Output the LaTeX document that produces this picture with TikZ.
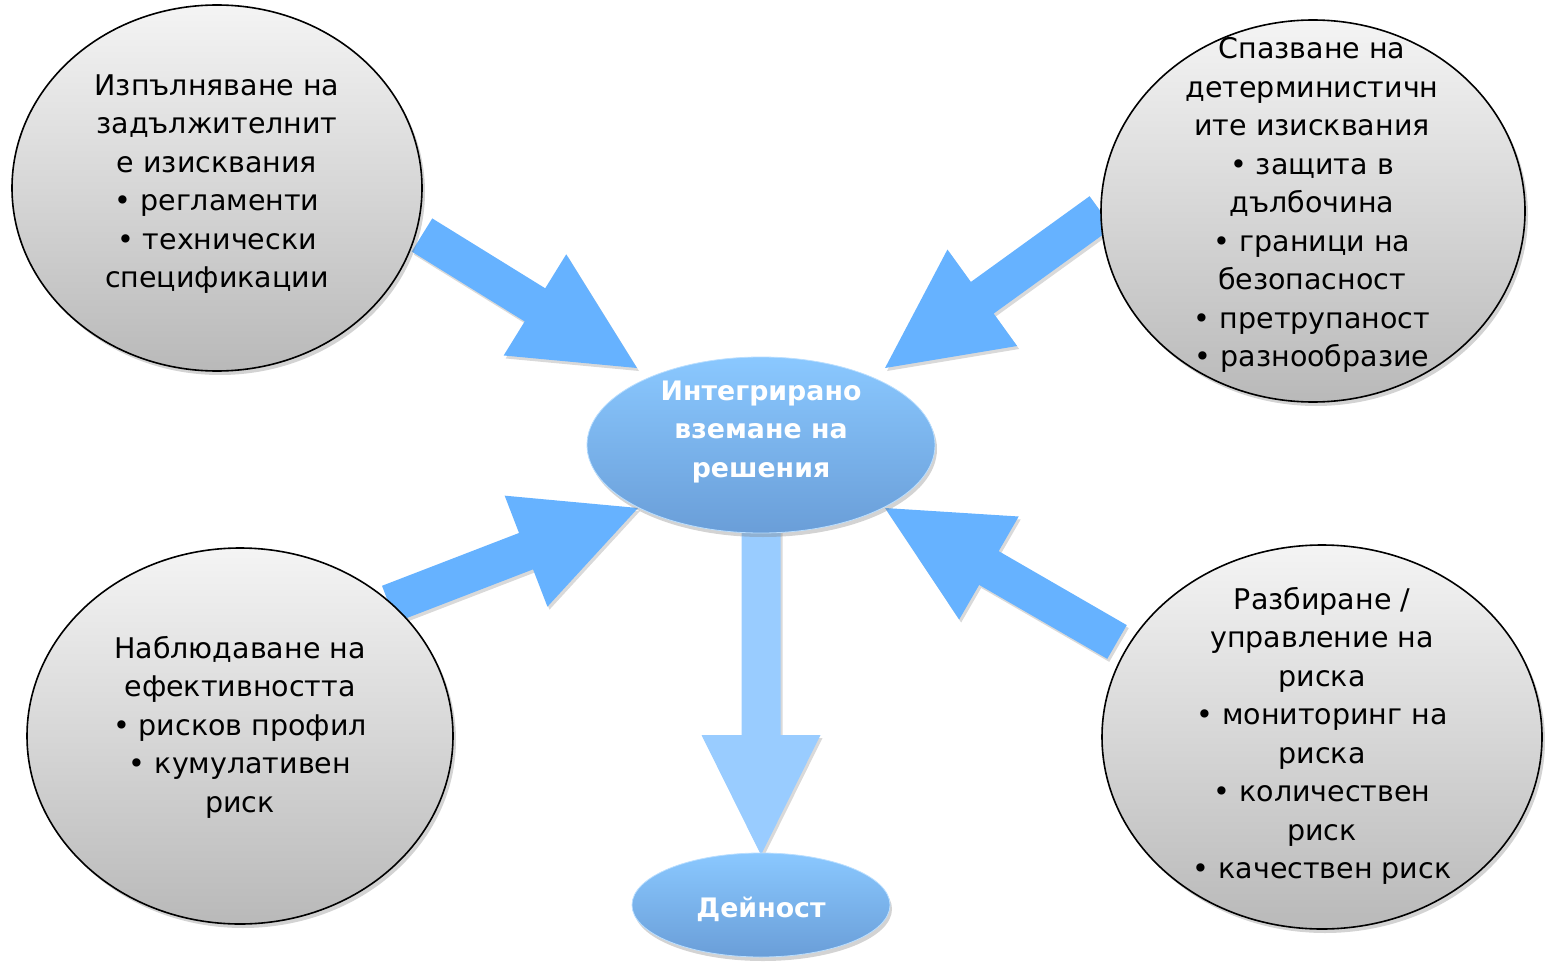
\documentclass[tikz,border=0pt]{standalone}
\usepackage{fontspec}
\setmainfont{DejaVu Sans}
\usetikzlibrary{calc,shadows,shapes.geometric}
\pgfdeclarelayer{background}
\pgfsetlayers{background,main}
\definecolor{arrowblue}{HTML}{66B2FF}
\definecolor{downblue}{HTML}{99CCFF}
\definecolor{greytop}{HTML}{F4F4F4}
\definecolor{greybot}{HTML}{B9B9B9}
\definecolor{bluetop}{HTML}{8AC8FF}
\definecolor{bluebot}{HTML}{6A9ED8}
\tikzset{
  greyell/.style={ellipse, draw=black, line width=1.6pt, top color=greytop, bottom color=greybot,
    inner sep=0pt, outer sep=0pt, drop shadow={shadow xshift=3pt, shadow yshift=-4pt, opacity=0.35}},
  blueell/.style={ellipse, draw=bluetop!60!white, line width=0.8pt, top color=bluetop, bottom color=bluebot,
    inner sep=0pt, outer sep=0pt, drop shadow={shadow xshift=2pt, shadow yshift=-4pt, opacity=0.35}},
  bodytext/.style={align=center, inner sep=0pt, font=\fontsize{28.5}{38.5}\selectfont, text=black},
  headtext/.style={align=center, inner sep=0pt, font=\fontsize{26.8}{38.5}\selectfont\bfseries, text=white},
  inarrow/.style={fill=arrowblue, drop shadow={shadow xshift=2pt, shadow yshift=-3pt, opacity=0.3}},
  outarrow/.style={fill=downblue, drop shadow={shadow xshift=2pt, shadow yshift=-3pt, opacity=0.3}},
}
% #1 style, #2 tail coordinate, #3 tip coordinate
\newcommand\blockarrowpath[3]{%
  \coordinate (hb) at ($(#3)!120pt!(#2)$);
  \fill[#1] ($(#2)!19.5pt!90:(#3)$) -- ($(hb)!19.5pt!90:(#3)$) -- ($(hb)!59.5pt!90:(#3)$) -- (#3)
    -- ($(hb)!59.5pt!-90:(#3)$) -- ($(hb)!19.5pt!-90:(#3)$) -- ($(#2)!19.5pt!-90:(#3)$) -- cycle;}
\begin{document}
\begin{tikzpicture}[x=1pt, y=-1pt]
\useasboundingbox (0,0) rectangle (1545,963);

% ellipses
\node[greyell, minimum width=410pt, minimum height=366pt] (tl) at (217,188) {};
\node[greyell, minimum width=424pt, minimum height=382pt] (tr) at (1313,211) {};
\node[greyell, minimum width=426pt, minimum height=376pt] (bl) at (240,736) {};
\node[greyell, minimum width=440pt, minimum height=384pt] (br) at (1322,737) {};
\node[blueell, minimum width=348pt, minimum height=176pt] (ctr) at (761,445) {};
\node[blueell, minimum width=258pt, minimum height=104pt] (act) at (761,905) {};

% texts
\node[bodytext] (tltext) at ([shift={(0,-4)}]tl.center)
  {Изпълняване на\\задължителнит\\е изисквания\\• регламенти\\• технически\\спецификации};
\node[bodytext] (trtext) at ([shift={(-1,-6)}]tr.center)
  {Спазване на\\детерминистичн\\ите изисквания\\• защита в\\дълбочина\\• граници на\\безопасност\\• претрупаност\\• разнообразие};
\node[bodytext] (bltext) at ([shift={(0,-9)}]bl.center)
  {Наблюдаване на\\ефективността\\• рисков профил\\• кумулативен\\риск};
\node[bodytext] (brtext) at ([shift={(0,-1)}]br.center)
  {Разбиране /\\управление на\\риска\\• мониторинг на\\риска\\• количествен\\риск\\• качествен риск};
\node[headtext] (ctrtext) at ([shift={(0,-13)}]ctr.center) {Интегрирано\\вземане на\\решения};
\node[headtext] (acttext) at ([shift={(0,4)}]act.center) {Дейност};

% arrow end points, tied to the nodes
\coordinate (a1t) at ([shift={(205,47)}]tl.center);
\coordinate (a1h) at ([shift={(-124,-77)}]ctr.center);
\coordinate (a2t) at ([shift={(-212,1)}]tr.center);
\coordinate (a2h) at ([shift={(124,-77)}]ctr.center);
\coordinate (a3t) at ([shift={(149,-132)}]bl.center);
\coordinate (a3h) at ([shift={(-123,63)}]ctr.center);
\coordinate (a4t) at ([shift={(-205,-95)}]br.center);
\coordinate (a4h) at ([shift={(124,63)}]ctr.center);
\coordinate (a5t) at ([shift={(0,75)}]ctr.center);
\coordinate (a5h) at ([shift={(0,2)}]act.north);

\begin{pgfonlayer}{background}
  \blockarrowpath{inarrow}{a1t}{a1h}
  \blockarrowpath{inarrow}{a2t}{a2h}
  \blockarrowpath{inarrow}{a3t}{a3h}
  \blockarrowpath{inarrow}{a4t}{a4h}
  \blockarrowpath{outarrow}{a5t}{a5h}
\end{pgfonlayer}
\end{tikzpicture}
\end{document}
